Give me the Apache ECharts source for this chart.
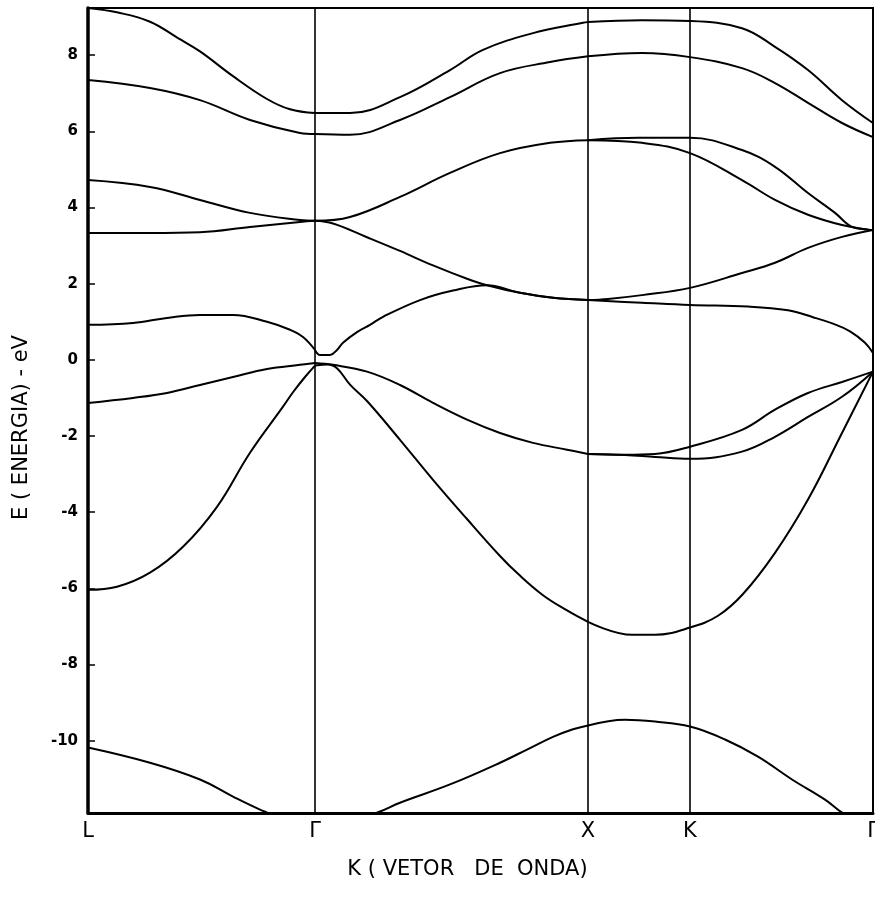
<!DOCTYPE html>
<html>
<head>
<meta charset="utf-8">
<script src="https://cdn.jsdelivr.net/npm/echarts@6/dist/echarts.min.js"></script>
<style>
html,body{margin:0;padding:0;background:#fff;overflow:hidden;}
#c{width:875px;height:901px;}
</style>
</head>
<body>
<div id="c"></div>
<script>
// ---- axis data ----
const kTicks = [0, 2.27, 5.00, 6.02, 7.85];
const kLabels = ['L', 'Γ', 'X', 'K', 'Γ'];
const symLines = [2.27, 5.00, 6.02];
const eTicks = [-10, -8, -6, -4, -2, 0, 2, 4, 6, 8];
const eMin = -11.9, eMax = 9.24;

// ---- bands: L -> Γ ----
const lg1 = [[0,9.24],[0.3,9.12],[0.62,8.88],[0.9,8.45],[1.12,8.10],[1.45,7.45],[1.79,6.85],[2.02,6.58],[2.27,6.48]];
const lg2 = [[0,7.35],[0.62,7.14],[1.12,6.82],[1.62,6.30],[2.12,5.96],[2.27,5.93]];
const lg3 = [[0,4.72],[0.62,4.54],[1.12,4.20],[1.62,3.86],[2.12,3.67],[2.27,3.65]];
const lg4 = [[0,3.33],[0.62,3.33],[1.12,3.35],[1.62,3.49],[2.12,3.62],[2.27,3.65]];
const lg5 = [[0,0.92],[0.45,0.97],[0.79,1.10],[1.12,1.18],[1.45,1.18],[1.79,1.00],[2.02,0.79],[2.15,0.60],[2.27,0.26]];
const lg6 = [[0,-1.13],[0.45,-1.00],[0.79,-0.87],[1.12,-0.66],[1.45,-0.45],[1.79,-0.24],[2.12,-0.13],[2.27,-0.08]];
const lg7 = [[0,-6.04],[0.29,-5.96],[0.62,-5.59],[0.95,-4.91],[1.29,-3.86],[1.62,-2.44],[1.95,-1.23],[2.05,-0.85],[2.17,-0.45],[2.27,-0.15]];
const lg8 = [[0,-10.18],[0.62,-10.58],[1.12,-11.02],[1.45,-11.47],[1.72,-11.81],[2.0,-12.1],[2.27,-12.25]];

// ---- bands: Γ -> X ----
const gx1 = [[2.27,6.48],[2.62,6.48],[3.12,6.90],[3.62,7.61],[3.95,8.14],[4.45,8.58],[4.95,8.85],[5.0,8.87]];
const gx2 = [[2.27,5.93],[2.62,5.91],[3.12,6.30],[3.62,6.90],[4.12,7.53],[4.62,7.82],[5.0,7.97]];
const gx3 = [[2.27,3.65],[2.62,3.75],[3.12,4.28],[3.62,4.91],[4.12,5.43],[4.62,5.70],[5.0,5.77]];
const gx4 = [[2.27,3.65],[2.45,3.58],[2.79,3.22],[3.12,2.86],[3.45,2.48],[3.79,2.13],[3.99,1.96],[4.32,1.76],[4.65,1.63],[5.0,1.57]];
const gx5 = [[2.27,0.26],[2.32,0.13],[2.42,0.13],[2.49,0.26],[2.55,0.45],[2.69,0.73],[2.82,0.92],[2.95,1.13],[3.32,1.57],[3.65,1.82],[3.99,1.96],[4.32,1.76],[4.65,1.63],[5.0,1.57]];
const gx6 = [[2.27,-0.08],[2.45,-0.13],[2.79,-0.31],[3.12,-0.66],[3.45,-1.13],[3.79,-1.57],[4.12,-1.92],[4.45,-2.18],[4.79,-2.36],[5.0,-2.47]];
const gx7 = [[2.27,-0.15],[2.40,-0.12],[2.49,-0.22],[2.62,-0.65],[2.79,-1.08],[3.12,-2.10],[3.45,-3.15],[3.79,-4.18],[4.12,-5.15],[4.30,-5.62],[4.55,-6.18],[4.79,-6.58],[5.0,-6.88]];
const gx8 = [[2.27,-12.25],[2.6,-12.15],[2.92,-11.86],[3.12,-11.63],[3.62,-11.15],[4.12,-10.58],[4.40,-10.22],[4.65,-9.90],[4.85,-9.70],[5.0,-9.60]];

// ---- bands: X -> K -> Γ ----
const xg1 = [[5.0,8.87],[5.54,8.92],[6.02,8.90],[6.54,8.71],[6.87,8.22],[7.20,7.61],[7.54,6.82],[7.85,6.22]];
const xg2 = [[5.0,7.97],[5.54,8.06],[6.02,7.95],[6.54,7.66],[6.87,7.27],[7.20,6.75],[7.54,6.22],[7.85,5.85]];
const xg3 = [[5.0,5.77],[5.5,5.83],[6.02,5.83],[6.54,5.51],[6.87,5.07],[7.20,4.38],[7.47,3.86],[7.64,3.49],[7.80,3.42],[7.85,3.41]];
const xg4 = [[5.0,5.77],[5.54,5.70],[6.02,5.43],[6.54,4.72],[6.87,4.20],[7.20,3.81],[7.54,3.54],[7.80,3.42],[7.85,3.41]];
const xg5 = [[5.0,1.57],[5.2,1.60],[5.54,1.70],[6.02,1.89],[6.54,2.28],[6.87,2.55],[7.20,2.94],[7.54,3.23],[7.85,3.41]];
const xg6 = [[5.0,1.57],[5.54,1.50],[6.02,1.44],[6.60,1.40],[7.00,1.30],[7.25,1.12],[7.45,0.95],[7.62,0.75],[7.77,0.45],[7.85,0.18]];
const xg7 = [[5.0,-2.47],[5.37,-2.49],[5.67,-2.47],[6.02,-2.28],[6.54,-1.84],[6.87,-1.31],[7.20,-0.87],[7.54,-0.58],[7.85,-0.31]];
const xg8 = [[5.0,-2.47],[5.37,-2.50],[5.67,-2.55],[6.02,-2.60],[6.54,-2.41],[6.87,-2.02],[7.20,-1.50],[7.54,-0.97],[7.85,-0.31]];
const xg9 = [[5.0,-6.88],[5.44,-7.22],[5.67,-7.22],[6.02,-7.03],[6.30,-6.72],[6.55,-6.15],[6.87,-5.07],[7.20,-3.67],[7.54,-1.92],[7.85,-0.31]];
const xg10 = [[5.0,-9.60],[5.37,-9.45],[5.67,-9.50],[6.02,-9.63],[6.37,-9.97],[6.70,-10.42],[7.04,-11.02],[7.37,-11.55],[7.54,-11.89],[7.85,-12.4]];

const bands = [lg1,lg2,lg3,lg4,lg5,lg6,lg7,lg8,gx1,gx2,gx3,gx4,gx5,gx6,gx7,gx8,xg1,xg2,xg3,xg4,xg5,xg6,xg7,xg8,xg9,xg10];

const FONT = 'DejaVu Sans';
const chart = echarts.init(document.getElementById('c'), null, {renderer: 'canvas'});

const series = bands.map(b => ({
  type: 'line',
  data: b,
  smooth: 0.4,
  showSymbol: false,
  symbol: 'none',
  clip: true,
  silent: true,
  lineStyle: {color: '#000', width: 2},
  z: 3
}));

series.push({
  type: 'line',
  data: [],
  silent: true,
  markLine: {
    silent: true,
    symbol: ['none', 'none'],
    label: {show: false},
    lineStyle: {color: '#000', width: 1.6, type: 'solid'},
    data: symLines.map(v => ({xAxis: v}))
  }
});

chart.setOption({
  animation: false,
  backgroundColor: '#fff',
  grid: {
    left: 88, right: 2, top: 8, bottom: 88,
    outerBoundsMode: 'none',
    containLabel: false,
    show: true, borderColor: '#000', borderWidth: 2, backgroundColor: 'transparent'
  },
  xAxis: {
    type: 'value',
    min: 0, max: 7.85,
    splitLine: {show: false},
    axisLine: {onZero: false, lineStyle: {color: '#000', width: 3}},
    axisTick: {show: false},
    axisLabel: {
      customValues: kTicks,
      formatter: function (v) {
        let best = 0;
        for (let i = 0; i < kTicks.length; i++) if (Math.abs(kTicks[i] - v) < Math.abs(kTicks[best] - v)) best = i;
        return kLabels[best];
      },
      color: '#000', fontFamily: FONT, fontSize: 21, margin: 8, showMaxLabel: true, showMinLabel: true, hideOverlap: false
    },
    name: 'K ( VETOR   DE  ONDA)',
    nameLocation: 'middle',
    nameGap: 46,
    nameTextStyle: {color: '#000', fontFamily: FONT, fontSize: 21, padding: [0, 26, 0, 0]}
  },
  yAxis: {
    type: 'value',
    min: eMin, max: eMax,
    splitLine: {show: false},
    axisLine: {onZero: false, lineStyle: {color: '#000', width: 3.5}},
    axisTick: {show: true, inside: true, length: 7, customValues: eTicks, lineStyle: {color: '#000', width: 1.5}},
    axisLabel: {
      customValues: eTicks,
      color: '#000', fontFamily: FONT, fontSize: 15, fontWeight: 'bold', margin: 10
    },
    name: 'E ( ENERGIA) - eV',
    nameLocation: 'middle',
    nameRotate: 90,
    nameGap: 56,
    nameTextStyle: {color: '#000', fontFamily: FONT, fontSize: 21, padding: [0, 34, 0, 0]}
  },
  series: series
});
</script>
</body>
</html>
